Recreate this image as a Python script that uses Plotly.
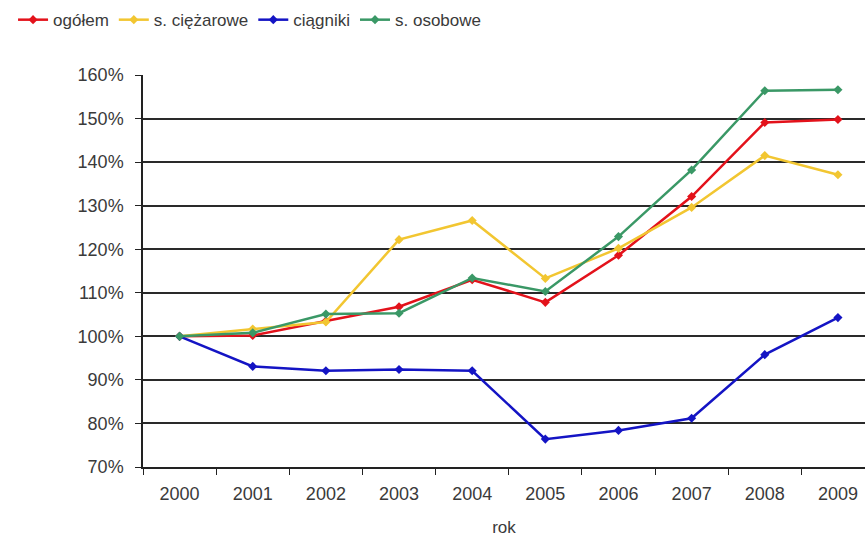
import plotly.graph_objects as go

years = ["2000", "2001", "2002", "2003", "2004", "2005", "2006", "2007", "2008", "2009"]
ogolem = [100, 100.2, 103.5, 106.8, 113.0, 107.8, 118.6, 132.1, 149.1, 149.8]
ciezarowe = [100, 101.7, 103.3, 122.2, 126.6, 113.3, 120.2, 129.6, 141.5, 137.1]
ciagniki = [100, 93.1, 92.1, 92.4, 92.1, 76.4, 78.4, 81.2, 95.8, 104.3]
osobowe = [100, 100.8, 105.1, 105.3, 113.4, 110.3, 122.9, 138.2, 156.4, 156.6]

series = [
    ("ogółem", ogolem, "#e3121b"),
    ("s. ciężarowe", ciezarowe, "#f2c631"),
    ("ciągniki", ciagniki, "#1414c4"),
    ("s. osobowe", osobowe, "#3a9866"),
]

fig = go.Figure()
for name, vals, col in series:
    fig.add_trace(go.Scatter(
        x=years, y=vals, name=name, mode="lines+markers",
        line=dict(color=col, width=2.5),
        marker=dict(symbol="diamond", size=7, color=col),
    ))

fam = "Liberation Sans, Arial, sans-serif"
font = dict(family=fam, size=18, color="#3a3a3a")

fig.update_layout(
    width=865, height=537,
    margin=dict(l=143, r=0, t=75, b=70),
    paper_bgcolor="white", plot_bgcolor="white",
    font=font,
    showlegend=True,
    legend=dict(orientation="h", x=-0.18, xanchor="left", y=1.14, yanchor="middle",
                font=dict(family=fam, size=17, color="#3a3a3a"),
                itemwidth=30, tracegroupgap=0),
    xaxis=dict(type="category", range=[-0.5, 9.37], tickson="boundaries",
               ticks="outside", ticklen=6, tickcolor="#222", showline=True, linecolor="#222",
               linewidth=1.5, showgrid=False, ticklabelstandoff=10, automargin=False,
               title=dict(text="rok", font=dict(family=fam, size=17, color="#3a3a3a"), standoff=20)),
    yaxis=dict(range=[70, 160], dtick=10, ticksuffix="%", ticks="outside", ticklen=6,
               tickcolor="#222", showline=True, linecolor="#222", linewidth=1.5,
               showgrid=True, gridcolor="#2a2a2a", gridwidth=1.5, zeroline=False,
               ticklabelstandoff=8, automargin=False),
)

fig.write_html("out.html")
